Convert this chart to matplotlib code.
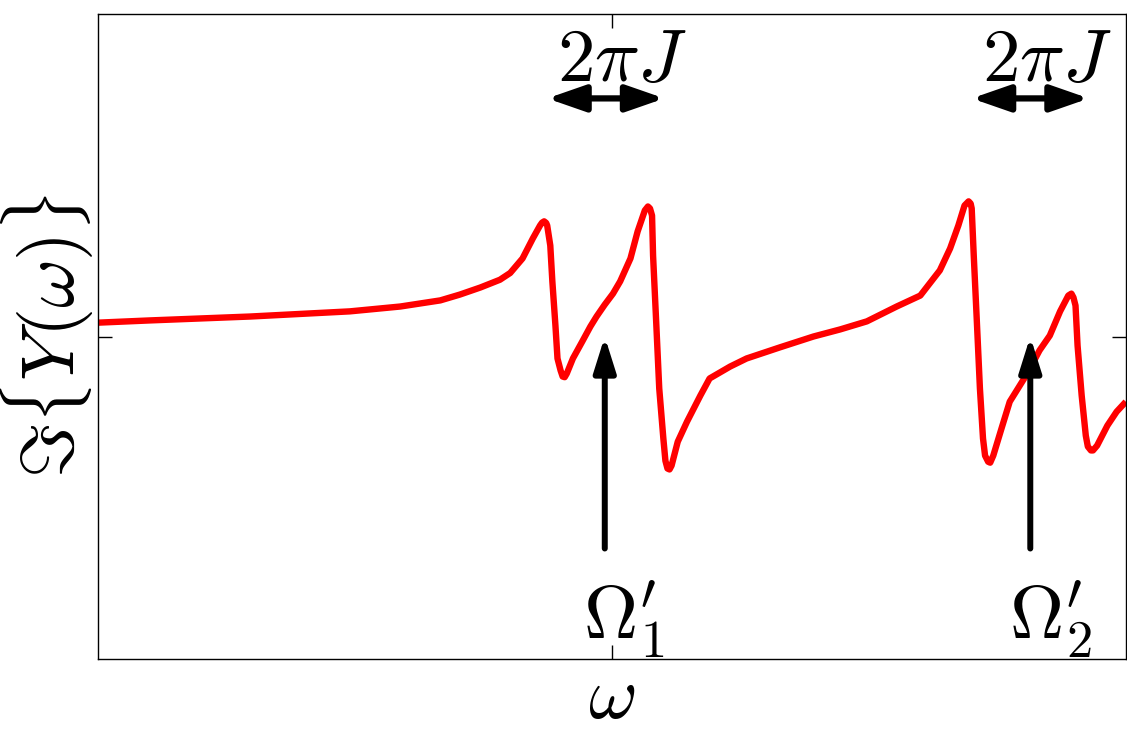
import matplotlib
matplotlib.use("Agg")
import matplotlib.pyplot as plt

plt.rcParams['mathtext.fontset'] = 'cm'

# Curve (omega in axis units 0..1, Im{Y} in -1..1)
omega = [0.000, 0.051, 0.148, 0.245, 0.294, 0.333, 0.352, 0.372, 0.391, 0.401,
         0.413, 0.423, 0.430, 0.432, 0.434, 0.436, 0.437, 0.440, 0.442, 0.445,
         0.447, 0.450, 0.452, 0.454, 0.456, 0.462, 0.471, 0.479, 0.485, 0.493,
         0.501, 0.508, 0.518, 0.525, 0.532, 0.535, 0.537, 0.539, 0.540, 0.543,
         0.546, 0.550, 0.552, 0.554, 0.556, 0.558, 0.564, 0.573, 0.586, 0.595,
         0.615, 0.631, 0.663, 0.696, 0.722, 0.748, 0.777, 0.800, 0.809, 0.819,
         0.829, 0.837, 0.843, 0.847, 0.849, 0.850, 0.852, 0.855, 0.858, 0.861,
         0.863, 0.866, 0.868, 0.871, 0.879, 0.887, 0.904, 0.916, 0.926, 0.936,
         0.944, 0.947, 0.949, 0.951, 0.953, 0.957, 0.961, 0.963, 0.966, 0.968,
         0.972, 0.982, 0.991, 1.000]
im_y = [0.043, 0.050, 0.062, 0.078, 0.093, 0.112, 0.130, 0.152, 0.176, 0.197,
        0.242, 0.304, 0.344, 0.353, 0.357, 0.352, 0.344, 0.282, 0.171, 0.034,
        -0.068, -0.105, -0.124, -0.126, -0.115, -0.068, -0.016, 0.031, 0.062, 0.099,
        0.133, 0.171, 0.242, 0.326, 0.391, 0.403, 0.397, 0.375, 0.251, 0.047,
        -0.161, -0.316, -0.385, -0.409, -0.412, -0.400, -0.326, -0.264, -0.183, -0.130,
        -0.093, -0.068, -0.034, 0.000, 0.022, 0.047, 0.093, 0.127, 0.164, 0.205,
        0.273, 0.344, 0.406, 0.419, 0.412, 0.397, 0.251, 0.047, -0.161, -0.316,
        -0.369, -0.388, -0.391, -0.369, -0.285, -0.202, -0.115, -0.043, 0.003, 0.078,
        0.127, 0.133, 0.121, 0.096, -0.028, -0.183, -0.307, -0.341, -0.353, -0.353,
        -0.338, -0.276, -0.233, -0.202]

# Annotation data
resonance_x = [0.493, 0.907]
resonance_labels = [r"$\Omega_1'$", r"$\Omega_2'$"]
split_start = [0.437, 0.850]
split_width = 0.114
split_label = r"$2\pi J$"

fig = plt.figure(figsize=(11.27, 7.30), dpi=100)
ax = fig.add_axes([0.087, 0.097, 0.912, 0.884])

ax.plot(omega, im_y, color='red', lw=4.6, solid_joinstyle='round', solid_capstyle='butt')

ax.set_xlim(0, 1)
ax.set_ylim(-1, 1)
ax.set_xticks([0.5])
ax.set_yticks([0.0])
ax.tick_params(direction='in', length=10, width=1, top=True, right=True,
               labelbottom=False, labelleft=False)
for s in ax.spines.values():
    s.set_linewidth(1.0)

fs = 54
# vertical arrows + labels
for xr, lab in zip(resonance_x, resonance_labels):
    ax.annotate('', xy=(xr, 0.0), xytext=(xr, -0.657),
                arrowprops=dict(arrowstyle='-|>,head_length=1.05,head_width=0.33',
                                lw=4.3, color='black', mutation_scale=20,
                                shrinkA=0, shrinkB=0))
    ax.text(xr - 0.021, -0.936, lab, fontsize=fs, ha='left', va='baseline')

# horizontal double arrows + labels
for xs in split_start:
    ax.annotate('', xy=(xs, 0.738), xytext=(xs + split_width, 0.738),
                arrowprops=dict(arrowstyle='<|-|>,head_length=1.15,head_width=0.4',
                                lw=4.5, color='black', mutation_scale=20,
                                shrinkA=0, shrinkB=0))
    ax.text(xs + split_width / 2 + 0.016, 0.791, split_label, fontsize=fs,
            ha='center', va='baseline')

ax.set_xlabel(r'$\omega$', fontsize=fs, labelpad=1)
ax.set_ylabel(r'$\Im\{Y(\omega)\}$', fontsize=fs, labelpad=2)

fig.savefig('out.png', dpi=100)
